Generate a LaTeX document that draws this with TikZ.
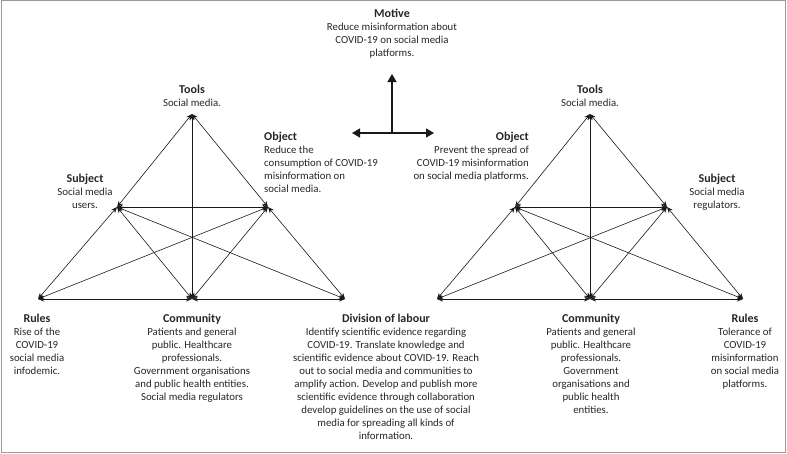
\documentclass[tikz,border=0pt]{standalone}
\usepackage{fontspec}
\setmainfont{Carlito}
\usetikzlibrary{arrows.meta}
\newcommand{\hd}[1]{{\fontsize{12}{13}\selectfont\bfseries #1}}
\begin{document}
\begin{tikzpicture}[x=1pt,y=-1pt,
  lbl/.style={inner sep=0pt,font=\fontsize{10.8}{13}\selectfont,align=center,text=black!85},
  link/.style={{Stealth[length=6pt,width=5pt]}-{Stealth[length=6pt,width=5pt]},line width=0.6pt,black!90},
  bigarrow/.style={-{Triangle[length=8pt,width=9pt]},line width=1.2pt,black!90},
  vtx/.style={inner sep=0pt,minimum size=0pt}]
\useasboundingbox (0,0) rectangle (787,453);
\draw[gray!80,line width=1.2pt] (1.5,0.6) rectangle (785.5,452.4);
% ---------- left triangle
\coordinate (LT) at (192,114);
\coordinate (LS) at (117,207);
\coordinate (LO) at (268,207);
\coordinate (LR) at (38,299);
\coordinate (LC) at (192,299);
\coordinate (LD) at (345,299);
\foreach \a/\b in {LT/LS,LT/LO,LT/LC,LS/LO,LS/LR,LS/LC,LS/LD,LO/LR,LO/LC,LO/LD,LR/LC,LC/LD}
  \draw[link] (\a) -- (\b);
% ---------- right triangle
\coordinate (RT) at (590,114);
\coordinate (RO) at (515,207);
\coordinate (RS) at (667,207);
\coordinate (RD) at (437,299);
\coordinate (RC) at (590,299);
\coordinate (RR) at (743,299);
\foreach \a/\b in {RT/RO,RT/RS,RT/RC,RO/RS,RO/RD,RO/RC,RO/RR,RS/RD,RS/RC,RS/RR,RD/RC,RC/RR}
  \draw[link] (\a) -- (\b);
% ---------- motive arrows
\coordinate (MC) at (392,133);
\coordinate (MU) at (392,74);
\coordinate (ML) at (352,133);
\coordinate (MR) at (434,133);
\draw[bigarrow] (MC) -- (MU);
\draw[bigarrow] (MC) -- (ML);
\draw[bigarrow] (MC) -- (MR);
% ---------- labels
\node[lbl,anchor=north] (motive) at (392,9) {\hd{Motive}\\Reduce misinformation about\\COVID-19 on social media\\platforms.};
\node[lbl,anchor=north] (ltools) at (192,85) {\hd{Tools}\\Social media.};
\node[lbl,anchor=north] (lsubj) at (85,174) {\hd{Subject}\\Social media\\users.};
\node[lbl,anchor=north west,align=left] (lobj) at (264,132) {\hd{Object}\\Reduce the\\consumption of COVID-19\\misinformation on\\social media.};
\node[lbl,anchor=north] (lrules) at (37,314) {\hd{Rules}\\Rise of the\\COVID-19\\social media\\infodemic.};
\node[lbl,anchor=north] (lcomm) at (192,314) {\hd{Community}\\Patients and general\\public. Healthcare\\professionals.\\Government organisations\\and public health entities.\\Social media regulators};
\node[lbl,anchor=north] (ldiv) at (386,314) {\hd{Division of labour}\\Identify scientific evidence regarding\\COVID-19. Translate knowledge and\\scientific evidence about COVID-19. Reach\\out to social media and communities to\\amplify action. Develop and publish more\\scientific evidence through collaboration\\develop guidelines on the use of social\\media for spreading all kinds of\\information.};
\node[lbl,anchor=north] (rtools) at (590,85) {\hd{Tools}\\Social media.};
\node[lbl,anchor=north east,align=right] (robj) at (529,132) {\hd{Object}\\Prevent the spread of\\COVID-19 misinformation\\on social media platforms.};
\node[lbl,anchor=north] (rsubj) at (717,174) {\hd{Subject}\\Social media\\regulators.};
\node[lbl,anchor=north] (rcomm) at (591,314) {\hd{Community}\\Patients and general\\public. Healthcare\\professionals.\\Government\\organisations and\\public health\\entities.};
\node[lbl,anchor=north] (rrules) at (745,314) {\hd{Rules}\\Tolerance of\\COVID-19\\misinformation\\on social media\\platforms.};
\end{tikzpicture}
\end{document}
